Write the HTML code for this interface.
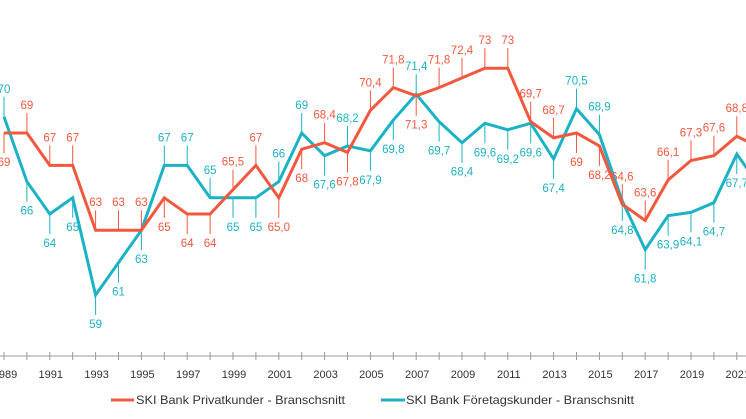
<!DOCTYPE html>
<html><head><meta charset="utf-8"><style>
html,body{margin:0;padding:0;background:#fff;}
svg{display:block;font-family:"Liberation Sans",sans-serif;}
</style></head><body>
<svg id="chart" width="746" height="419" viewBox="0 0 746 419" xmlns="http://www.w3.org/2000/svg"></svg>
<script>
const years = [1989,1990,1991,1992,1993,1994,1995,1996,1997,1998,1999,2000,2001,2002,2003,2004,2005,2006,2007,2008,2009,2010,2011,2012,2013,2014,2015,2016,2017,2018,2019,2020,2021,2022];
const privat = [69,69,67,67,63,63,63,65,64,64,65.5,67,65.0,68,68.4,67.8,70.4,71.8,71.3,71.8,72.4,73,73,69.7,68.7,69,68.2,64.6,63.6,66.1,67.3,67.6,68.8,68.1];
const foretag = [70,66,64,65,59,61,63,67,67,65,65,65,66,69,67.6,68.2,67.9,69.8,71.4,69.7,68.4,69.6,69.2,69.6,67.4,70.5,68.9,64.8,61.8,63.9,64.1,64.7,67.7,65.7];
const privatLabels = ["69","69","67","67","63","63","63","65","64","64","65,5","67","65,0","68","68,4","67,8","70,4","71,8","71,3","71,8","72,4","73","73","69,7","68,7","69","68,2","64,6","63,6","66,1","67,3","67,6","68,8",""];
const foretagLabels = ["70","66","64","65","59","61","63","67","67","65","65","65","66","69","67,6","68,2","67,9","69,8","71,4","69,7","68,4","69,6","69,2","69,6","67,4","70,5","68,9","64,8","61,8","63,9","64,1","64,7","67,7",""];
const privatSide = [-1,1,1,1,1,1,1,-1,-1,-1,1,1,-1,-1,1,-1,1,1,-1,1,1,1,1,1,1,-1,-1,1,1,1,1,1,1,1];
const foretagSide = [1,-1,-1,-1,-1,-1,-1,1,1,1,-1,-1,1,1,-1,1,-1,-1,1,-1,-1,-1,-1,-1,-1,1,1,-1,-1,-1,-1,-1,-1,-1];
const tickYears = [1989,1991,1993,1995,1997,1999,2001,2003,2005,2007,2009,2011,2013,2015,2017,2019,2021];

const RED="#f2583e", BLUE="#1cb2c6";
const svg=document.getElementById('chart');
const NS="http://www.w3.org/2000/svg";
const x=yr=>4+(yr-1989)*22.9;
const y=v=>133-(v-69)*16.2;
function mk(tag,attrs,parent){const e=document.createElementNS(NS,tag);for(const k in attrs)e.setAttribute(k,attrs[k]);(parent||svg).appendChild(e);return e;}

const axis=mk('g',{});


const al=mk('line',{x1:0,x2:746,y1:356,y2:356,stroke:'#999','stroke-width':1},axis);


for(let yr=1988;yr<=2022;yr++){
  const t=mk('line',{x1:x(yr),x2:x(yr),y1:352,y2:360,stroke:'#999','stroke-width':1},axis);
  
  
}
tickYears.forEach(yr=>{
  const t=mk('text',{x:x(yr)+1,y:378,'text-anchor':'middle','font-size':11,fill:'#333'},axis);
  t.textContent=yr;
  
  
});

function series(vals,labels,sides,color,name){
  const g=mk('g',{});
  
  
  vals.forEach((v,i)=>{
    if(!labels[i])return;
    const px=x(years[i]),py=y(v),s=sides[i];
    const l=mk('line',{x1:px,x2:px,y1:py,y2:py-s*20,stroke:color,'stroke-width':1},g);
    
    
    const t=mk('text',{x:px,y:s>0?py-24:py+33,'text-anchor':'middle','font-size':11.5,fill:color},g);
    t.textContent=labels[i];
    
    
  });
  const p=mk('polyline',{points:vals.map((v,i)=>x(years[i])+','+y(v)).join(' '),fill:'none',stroke:color,'stroke-width':3,'stroke-linejoin':'miter'},g);
  
  
}
series(foretag,foretagLabels,foretagSide,BLUE,'foretag');
series(privat,privatLabels,privatSide,RED,'privat');

const lg=mk('g',{});


const e1=mk('line',{x1:111,x2:134,y1:400,y2:400,stroke:RED,'stroke-width':3},lg);


const t1=mk('text',{x:136,y:404,'font-size':12,fill:'#333',textLength:209,lengthAdjust:'spacingAndGlyphs'},lg);
t1.textContent='SKI Bank Privatkunder - Branschsnitt';


const e2=mk('line',{x1:381,x2:405,y1:400,y2:400,stroke:BLUE,'stroke-width':3},lg);


const t2=mk('text',{x:406,y:404,'font-size':12,fill:'#333',textLength:228,lengthAdjust:'spacingAndGlyphs'},lg);
t2.textContent='SKI Bank Företagskunder - Branschsnitt';


</script>
</body></html>
